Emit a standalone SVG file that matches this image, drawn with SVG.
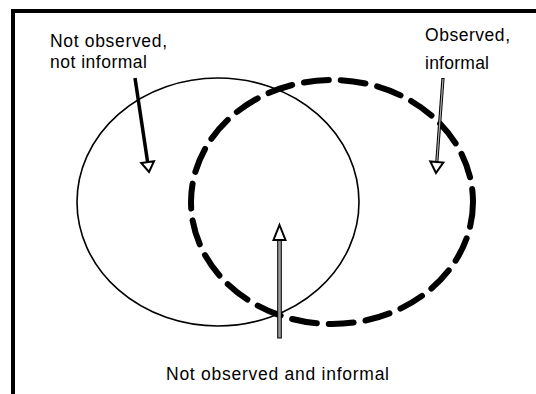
<svg xmlns="http://www.w3.org/2000/svg" width="536" height="394" viewBox="0 0 536 394">
<style>
  .lbl { font-family: "Liberation Sans", Arial, sans-serif; font-size: 17.5px; fill: #000; }
  .head { fill: #fff; stroke: #000; stroke-width: 2; stroke-linejoin: miter; }
</style>
<rect x="0" y="0" width="536" height="394" fill="#fff"/>
<rect id="frame" x="13" y="11" width="600" height="500" fill="none" stroke="#000" stroke-width="4"/>
<g id="not-informal-set">
  <ellipse cx="218" cy="202" rx="141" ry="124" fill="none" stroke="#000" stroke-width="1.6"/>
</g>
<g id="informal-set">
  <ellipse cx="332" cy="202" rx="141" ry="122" fill="none" stroke="#000" stroke-width="6" stroke-dasharray="25 12" stroke-linecap="round"/>
</g>
<g id="connectors">
  <g id="arrow-not-observed-not-informal">
    <line x1="135" y1="78" x2="147.6" y2="162" stroke="#000" stroke-width="3.5"/>
    <polygon class="head" points="149,172 154,161.2 141.2,163"/>
  </g>
  <g id="arrow-observed-informal">
    <line x1="443" y1="78" x2="436.8" y2="162" stroke="#000" stroke-width="3.2"/>
    <line x1="443" y1="79" x2="436.8" y2="162" stroke="#b0b0b0" stroke-width="1.2"/>
    <polygon class="head" points="436,173 443.3,162.5 430.3,161.5"/>
  </g>
  <g id="arrow-not-observed-and-informal">
    <rect x="277.7" y="240" width="3.6" height="98" fill="#999" stroke="#000" stroke-width="1"/>
    <polygon class="head" points="279.5,225 285.5,240 273.5,240"/>
  </g>
</g>
<g id="label-not-observed-not-informal">
  <text class="lbl" x="50" y="47" textLength="117" lengthAdjust="spacing">Not observed,</text>
  <text class="lbl" x="50" y="68" textLength="97" lengthAdjust="spacing">not informal</text>
</g>
<g id="label-observed-informal">
  <text class="lbl" x="425" y="41" textLength="85" lengthAdjust="spacing">Observed,</text>
  <text class="lbl" x="425" y="69" textLength="64" lengthAdjust="spacing">informal</text>
</g>
<g id="label-not-observed-and-informal">
  <text class="lbl" x="166" y="380" textLength="223" lengthAdjust="spacing">Not observed and informal</text>
</g>
</svg>
